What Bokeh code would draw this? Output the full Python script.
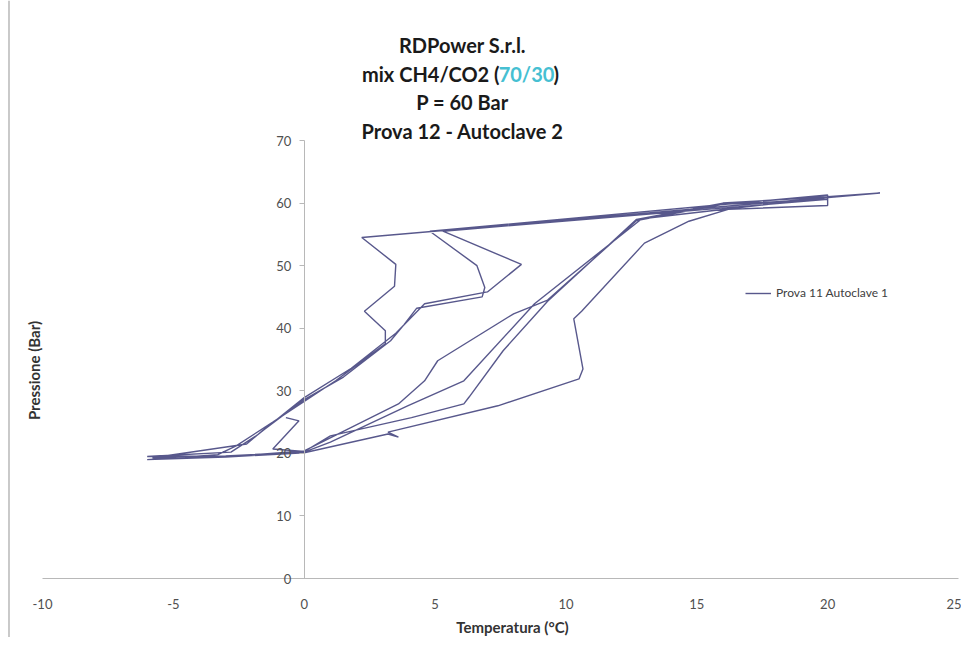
from bokeh.plotting import figure
from bokeh.models import Range1d, FixedTicker, Label, Legend, LegendItem, Span
from bokeh.embed import file_html
from bokeh.resources import INLINE
import math

# ---- data (Temperatura °C, Pressione Bar) ----
temperatura = [
    -0.7, -0.2, -1.2, 0.0, 1.0, 4.1, 6.1, 6.3, 7.6, 9.3, 12.7, 16.0, 20.0, 22.0,
    2.2, 3.5, 3.45, 2.3, 3.1, 3.1, 1.2, 0.0, -1.2, -2.6, -3.3, -6.0,
    -3.0, 0.0, 3.2, 3.6, 3.2, 7.4, 10.5, 10.65, 10.3, 10.6, 13.0, 14.7, 16.2, 20.0, 20.0,
    4.8, 6.6, 6.9, 6.8, 4.3, 3.8, 3.3, 1.5, 0.0, -1.6, -2.2, -5.8,
    -2.5, 0.0, 3.6, 4.6, 5.1, 8.0, 9.3, 12.7, 16.0, 20.0,
    5.3, 8.3, 7.0, 4.6, 3.5, 1.8, 0.0, -1.8, -2.8, -6.0,
    -3.0, 0.0, 1.0, 3.95, 6.1, 8.8, 12.9, 20.0,
]
pressione = [
    25.7, 25.2, 20.7, 20.3, 22.8, 25.7, 27.9, 29.0, 36.4, 44.3, 57.4, 60.0, 61.0, 61.6,
    54.5, 50.2, 46.7, 42.7, 39.6, 37.5, 31.6, 28.3, 25.0, 21.2, 19.8, 19.0,
    19.4, 20.1, 23.1, 22.6, 23.4, 27.6, 31.9, 33.5, 41.5, 42.7, 53.6, 57.1, 59.0, 59.6, 61.3,
    55.5, 50.0, 46.5, 45.0, 43.2, 40.5, 38.0, 32.2, 28.6, 23.6, 21.5, 19.3,
    19.6, 20.4, 27.9, 31.6, 34.8, 42.3, 44.5, 57.2, 59.8, 60.6,
    55.5, 50.2, 45.8, 43.9, 39.2, 33.6, 28.9, 22.9, 20.2, 19.5,
    19.6, 20.2, 21.8, 27.6, 31.6, 43.9, 57.5, 60.9,
]
x_ticks = [-10, -5, 0, 5, 10, 15, 20, 25]
y_ticks = [0, 10, 20, 30, 40, 50, 60, 70]
series_name = "Prova 11 Autoclave 1"
title_lines = ["RDPower S.r.l.", "mix CH4/CO2 (", "70/30", ")", "P = 60 Bar", "Prova 12 - Autoclave 2"]
x_label = "Temperatura (°C)"
y_label = "Pressione (Bar)"

LINE = "#4f4f86"
FONT = "Lato"
W, H = 961, 637

# pixel geometry of the plot (canvas pixels)
X0_PX, X1_PX = 42.0, 958.0      # x = -10 .. 25
Y0_PX, Y70_PX = 578.0, 140.0    # y = 0 .. 70
sx = 35.0 / (X1_PX - X0_PX)
sy = 70.0 / (Y0_PX - Y70_PX)


def dx(px):
    return -10 + (px - X0_PX) * sx


def dy(py):
    return (Y0_PX - py) * sy


p = figure(width=W, height=H, x_range=Range1d(dx(0), dx(W)), y_range=Range1d(dy(H), dy(0)),
           output_backend="svg", toolbar_location=None,
           min_border_left=0, min_border_right=0, min_border_top=0, min_border_bottom=0)
p.title = None
p.outline_line_color = None
p.grid.visible = False
p.background_fill_color = "white"
p.border_fill_color = "white"

# chart-area border (left edge)
p.add_layout(Span(location=dx(8.5), dimension="height", line_color="#a6a6a6", line_width=1.2))

# x axis along y = 0
p.xaxis.fixed_location = 0
p.xaxis.bounds = (-10, 25)
p.xaxis.ticker = FixedTicker(ticks=x_ticks)
p.xaxis.major_label_overrides = {t: str(t) for t in x_ticks}
p.xaxis.axis_line_color = "#b8b8b8"
p.xaxis.major_tick_out = 0
p.xaxis.major_tick_in = 0
p.xaxis.minor_tick_line_color = None
p.xaxis.major_label_standoff = 20
p.xaxis.major_label_text_font = FONT
p.xaxis.major_label_text_font_size = "13px"
p.xaxis.major_label_text_color = "#505050"

# y axis along x = 0
p.yaxis.fixed_location = 0
p.yaxis.bounds = (0, 70)
p.yaxis.ticker = FixedTicker(ticks=y_ticks)
p.yaxis.axis_line_color = "#b8b8b8"
p.yaxis.major_tick_line_color = "#b8b8b8"
p.yaxis.major_tick_out = 5
p.yaxis.major_tick_in = 0
p.yaxis.minor_tick_line_color = None
p.yaxis.major_label_standoff = 8
p.yaxis.major_label_text_font = FONT
p.yaxis.major_label_text_font_size = "13px"
p.yaxis.major_label_text_color = "#505050"

r = p.line(temperatura, pressione, line_color=LINE, line_width=1.4, line_alpha=0.95)

legend = Legend(items=[LegendItem(label=series_name, renderers=[r])], location=(745, H - 293 - 7),
                glyph_width=26, glyph_height=14, label_standoff=5, padding=0, margin=0,
                border_line_color=None, background_fill_alpha=0,
                label_text_font=FONT, label_text_font_size="12px", label_text_color="#404040")
p.add_layout(legend)

# title
TS = "20px"
tcx = dx(462)
for txt, py in [(title_lines[0], 44), (title_lines[4], 101), (title_lines[5], 130)]:
    p.add_layout(Label(x=tcx, y=dy(py), text=txt, text_align="center", text_baseline="middle",
                       text_font=FONT, text_font_style="bold", text_font_size=TS,
                       text_color="#1a1a1a"))
p.add_layout(Label(x=dx(499), y=dy(73), text=title_lines[1], text_align="right", text_baseline="middle",
                   text_font=FONT, text_font_style="bold", text_font_size=TS, text_color="#1a1a1a"))
p.add_layout(Label(x=dx(526), y=dy(73), text=title_lines[2], text_align="center", text_baseline="middle",
                   text_font=FONT, text_font_style="bold", text_font_size=TS, text_color="#46bfd2"))
p.add_layout(Label(x=dx(553), y=dy(73), text=title_lines[3], text_align="left", text_baseline="middle",
                   text_font=FONT, text_font_style="bold", text_font_size=TS, text_color="#1a1a1a"))

# axis titles
p.add_layout(Label(x=dx(512), y=dy(626), text=x_label,
                   text_align="center", text_baseline="middle", text_font=FONT,
                   text_font_style="bold", text_font_size="15px", text_color="#333333"))
p.add_layout(Label(x=dx(33), y=dy(370), text=y_label, angle=math.pi / 2,
                   text_align="center", text_baseline="middle", text_font=FONT,
                   text_font_style="bold", text_font_size="15px", text_color="#333333"))

open("out.html", "w").write(file_html(p, INLINE))
